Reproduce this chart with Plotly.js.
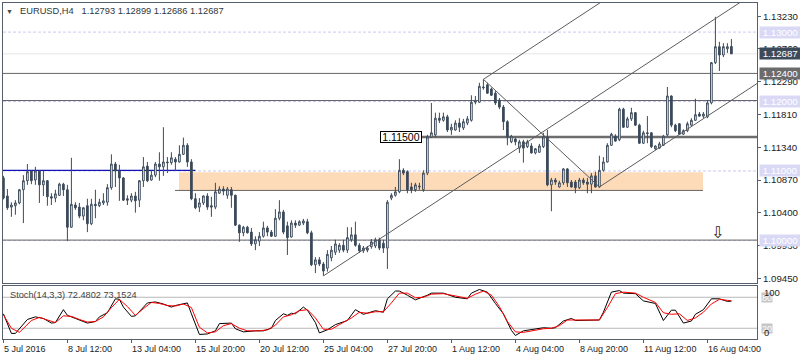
<!DOCTYPE html>
<html><head><meta charset="utf-8">
<script src="https://cdn.plot.ly/plotly-3.0.1.min.js"></script>
<style>html,body{margin:0;padding:0;background:#fff}#chart{width:800px;height:360px}</style>
</head><body><div id="chart"></div>
<script>
// ---------- DATA ----------
const open = [
1.1090,1.1064,1.1048,1.1050,1.1054,1.1073,1.1086,1.1100,1.1087,1.1100,
1.1080,1.1086,1.1063,1.1061,1.1065,1.1081,1.1073,1.1019,1.1051,1.1048,
1.1035,1.1050,1.1024,1.1052,1.1050,1.1054,1.1055,1.1076,1.1110,1.1100,
1.1090,1.1060,1.1058,1.1064,1.1058,1.1086,1.1107,1.1087,1.1094,1.1110,
1.1106,1.1113,1.1112,1.1117,1.1113,1.1124,1.1137,1.1113,1.1060,1.1048,
1.1054,1.1064,1.1050,1.1048,1.1068,1.1074,1.1065,1.1073,1.1065,1.1022,
1.1011,1.1019,1.1012,1.0995,1.0999,1.1006,1.1018,1.1012,1.1006,1.1032,
1.1041,1.1021,1.1005,1.1025,1.1022,1.1025,1.1027,1.1011,1.0965,1.0972,
1.0966,1.0960,1.0975,1.0983,1.0986,1.0993,1.0986,1.1001,1.1008,1.0993,
1.0985,1.0986,1.0991,1.0992,1.1001,1.0996,1.0989,1.1061,1.1065,1.1070,
1.1101,1.1099,1.1077,1.1073,1.1077,1.1073,1.1097,1.1149,1.1152,1.1176,
1.1173,1.1178,1.1159,1.1159,1.1169,1.1162,1.1169,1.1173,1.1199,1.1199,
1.1221,1.1224,1.1218,1.1212,1.1202,1.1192,1.1171,1.1142,1.1146,1.1133,
1.1142,1.1135,1.1136,1.1126,1.1127,1.1135,1.1149,1.1080,1.1087,1.1077,
1.1083,1.1103,1.1084,1.1084,1.1076,1.1087,1.1084,1.1081,1.1093,1.1077,
1.1101,1.1113,1.1137,1.1150,1.1145,1.1189,1.1163,1.1175,1.1184,1.1166,
1.1140,1.1155,1.1155,1.1132,1.1133,1.1137,1.1152,1.1208,1.1166,1.1168,
1.1153,1.1158,1.1166,1.1173,1.1182,1.1179,1.1178,1.1198,1.1256,1.1279,
1.1267,1.1276,1.12793];
const high = [
1.1093,1.1074,1.1055,1.1058,1.1074,1.1094,1.1110,1.1101,1.1106,1.1101,
1.1100,1.1087,1.1068,1.1073,1.1083,1.1083,1.1080,1.1119,1.1055,1.1054,
1.1048,1.1060,1.1060,1.1073,1.1060,1.1068,1.1081,1.1124,1.1113,1.1109,
1.1091,1.1065,1.1068,1.1070,1.1087,1.1120,1.1113,1.1101,1.1113,1.1127,
1.1163,1.1120,1.1127,1.1120,1.1137,1.1148,1.1140,1.1117,1.1068,1.1061,
1.1065,1.1068,1.1063,1.1083,1.1078,1.1078,1.1077,1.1077,1.1066,1.1023,
1.1021,1.1021,1.1018,1.1006,1.1012,1.1027,1.1021,1.1015,1.1045,1.1058,
1.1044,1.1027,1.1029,1.1029,1.1029,1.1031,1.1031,1.1014,1.0976,1.0976,
1.0969,1.0986,1.0992,1.1001,1.0996,1.1001,1.1019,1.1019,1.1027,1.0996,
1.0992,1.0992,1.1002,1.1004,1.1004,1.1001,1.1058,1.1068,1.1077,1.1117,
1.1104,1.1101,1.1083,1.1083,1.1083,1.1101,1.1152,1.1198,1.1184,1.1184,
1.1184,1.1181,1.1168,1.1173,1.1176,1.1175,1.1179,1.1209,1.1208,1.1227,
1.1232,1.1227,1.1220,1.1215,1.1205,1.1195,1.1173,1.1152,1.1148,1.1145,
1.1145,1.1145,1.1140,1.1133,1.1139,1.1155,1.1159,1.1090,1.1090,1.1086,
1.1104,1.1104,1.1087,1.1087,1.1090,1.1090,1.1090,1.1097,1.1099,1.1122,
1.1120,1.1140,1.1155,1.1153,1.1191,1.1191,1.1178,1.1191,1.1185,1.1168,
1.1158,1.1179,1.1156,1.1137,1.1142,1.1152,1.1221,1.1209,1.1168,1.1169,
1.1160,1.1171,1.1176,1.1204,1.1185,1.1185,1.1202,1.1257,1.1322,1.1286,
1.1284,1.1284,1.12899];
const low = [
1.1059,1.1044,1.1034,1.1037,1.1052,1.1025,1.1080,1.1081,1.1080,1.1054,
1.1064,1.1050,1.1051,1.1055,1.1064,1.1064,1.0999,1.1018,1.1044,1.1032,
1.1029,1.1012,1.1022,1.1032,1.1048,1.1051,1.1050,1.1073,1.1077,1.1057,
1.1057,1.1051,1.1055,1.1040,1.1048,1.1077,1.1084,1.1086,1.1091,1.1086,
1.1093,1.1097,1.1109,1.1100,1.1112,1.1123,1.1106,1.1058,1.1045,1.1041,
1.1051,1.1044,1.1034,1.1045,1.1067,1.1065,1.1060,1.1047,1.1021,1.0998,
1.1006,1.1010,1.0992,1.0986,1.0992,1.1004,1.1006,1.1005,1.1005,1.1029,
1.1009,1.0979,1.1004,1.1018,1.1021,1.1022,1.1009,1.0963,1.0953,1.0963,
1.0949,1.0955,1.0970,1.0979,1.0982,1.0983,1.0982,1.0998,1.0991,1.0982,
1.0982,1.0983,1.0988,1.0989,1.0986,1.0982,1.0959,1.1058,1.1063,1.1068,
1.1094,1.1068,1.1068,1.1070,1.1073,1.1070,1.1094,1.1148,1.1149,1.1169,
1.1171,1.1156,1.1152,1.1158,1.1156,1.1159,1.1166,1.1171,1.1196,1.1198,
1.1217,1.1211,1.1208,1.1195,1.1189,1.1159,1.1137,1.1140,1.1137,1.1126,
1.1112,1.1133,1.1125,1.1124,1.1126,1.1133,1.1078,1.1042,1.1080,1.1076,
1.1080,1.1077,1.1076,1.1068,1.1074,1.1080,1.1068,1.1068,1.1076,1.1076,
1.1099,1.1112,1.1136,1.1142,1.1143,1.1162,1.1162,1.1172,1.1165,1.1139,
1.1139,1.1140,1.1133,1.1130,1.1132,1.1136,1.1150,1.1163,1.1156,1.1152,
1.1152,1.1156,1.1165,1.1172,1.1178,1.1176,1.1176,1.1196,1.1254,1.1244,
1.1264,1.1270,1.12686];
const close = [
1.1061,1.1047,1.1051,1.1054,1.1073,1.1086,1.1099,1.1086,1.1100,1.1080,
1.1086,1.1063,1.1061,1.1067,1.1081,1.1073,1.1019,1.1052,1.1047,1.1035,
1.1047,1.1024,1.1052,1.1050,1.1055,1.1057,1.1076,1.1110,1.1100,1.1090,
1.1058,1.1058,1.1064,1.1057,1.1086,1.1106,1.1086,1.1094,1.1110,1.1106,
1.1113,1.1112,1.1119,1.1113,1.1124,1.1137,1.1113,1.1060,1.1047,1.1054,
1.1064,1.1048,1.1048,1.1070,1.1074,1.1071,1.1074,1.1065,1.1022,1.1011,
1.1019,1.1011,1.0995,1.1001,1.1006,1.1018,1.1012,1.1006,1.1032,1.1041,
1.1012,1.1004,1.1025,1.1022,1.1027,1.1028,1.1011,1.0965,1.0972,1.0966,
1.0956,1.0980,1.0986,1.0995,1.0993,1.0986,1.1004,1.1008,1.0993,1.0985,
1.0989,1.0989,1.0998,1.1001,1.0989,1.0989,1.1055,1.1065,1.1070,1.1101,
1.1097,1.1073,1.1073,1.1080,1.1078,1.1097,1.1149,1.1155,1.1176,1.1173,
1.1178,1.1159,1.1163,1.1169,1.1163,1.1171,1.1175,1.1199,1.1201,1.1222,
1.1220,1.1212,1.1209,1.1198,1.1192,1.1171,1.1149,1.1150,1.1142,1.1142,
1.1133,1.1142,1.1126,1.1132,1.1136,1.1149,1.1080,1.1087,1.1084,1.1083,
1.1103,1.1083,1.1077,1.1076,1.1087,1.1083,1.1081,1.1093,1.1077,1.1101,
1.1113,1.1137,1.1153,1.1143,1.1189,1.1163,1.1175,1.1184,1.1166,1.1140,
1.1155,1.1154,1.1135,1.1136,1.1139,1.1150,1.1208,1.1166,1.1158,1.1153,
1.1158,1.1168,1.1173,1.1181,1.1179,1.1182,1.1198,1.1256,1.1279,1.1267,
1.1279,1.1279,1.12687];

// Stochastic(14,3,3): %K (black) and %D (red), read at bar indices
const kIdx = [0,2,3,6,8,10,12,13,15,16,18,21,23,24,26,28,29,30,32,33,36,38,40,42,43,46,47,49,51,53,54,57,58,60,63,65,67,68,70,71,72,73,75,76,78,79,81,83,86,88,90,92,93,95,96,98,99,101,103,106,107,110,113,116,117,119,121,123,125,127,128,130,133,135,137,138,140,142,143,146,149,150,152,154,155,158,160,163,165,167,168,170,172,173,175,177,179,181,182];
const kVal = [48,10,10,37,42,39,30,31,56,45,39,30,33,42,50,77,76,61,43,44,69,71,67,61,64,69,48,8,9,15,29,30,19,13,15,15,20,35,48,45,49,48,61,55,31,11,17,27,35,56,47,51,54,51,77,92,92,84,75,84,88,88,80,77,88,95,90,68,48,16,6,15,18,21,20,21,34,39,35,35,36,51,90,93,88,87,73,68,35,55,55,30,34,47,56,77,77,72,72.48];
const dIdx = [0,2,4,7,9,11,13,15,17,19,21,23,25,27,29,31,33,35,37,39,41,43,45,47,49,51,53,55,57,59,61,64,66,68,70,72,74,76,78,80,82,84,87,89,91,93,95,97,99,101,103,105,107,110,113,116,118,120,122,124,126,128,130,133,135,137,139,141,143,146,149,151,153,155,158,160,163,165,167,169,171,173,175,177,179,181,182];
const dVal = [46,20,12,35,41,36,31,44,43,37,32,33,42,60,76,62,45,58,70,68,64,63,67,60,22,11,13,25,29,20,15,15,17,26,42,46,54,56,40,18,18,27,40,51,49,52,52,69,88,88,79,80,86,87,82,78,86,92,84,62,33,13,12,16,19,20,25,36,36,35,36,60,87,90,88,80,70,50,47,48,35,40,51,67,76,74,73.15];

// x tick labels (every 16 bars)
const tickIdx = [0,16,32,48,64,80,96,112,128,144,160,176];
const tickLabels = ['5 Jul 2016','8 Jul 12:00','13 Jul 04:00','15 Jul 20:00','20 Jul 12:00','25 Jul 04:00','27 Jul 20:00','1 Aug 12:00','4 Aug 04:00','8 Aug 20:00','11 Aug 12:00','16 Aug 04:00'];
// price scale
const yTickVals = [1.1323,1.1276,1.1229,1.1181,1.1134,1.1087,1.1040,1.0993,1.0945];
const yTickText = ['1.13230','1.12760','1.12290','1.11810','1.11340','1.10870','1.10400','1.09930','1.09450'];
// marked price levels
const levelDashed = [1.1300,1.1200,1.1100,1.1000];
const levelSolid = [1.1240,1.1201,1.1000];
const bidPrice = 1.12687;
const levelLabels = [1.1300,1.12687,1.1240,1.1200,1.1100,1.1000];
const levelLabelText = ['1.13000','1.12687','1.12400','1.12000','1.11000','1.10000'];
const keyLevel = 1.1149, keyLevelText = '1.11500';
const zoneTop = 1.1098, zoneBottom = 1.1072;
const blueLevel = 1.1101;
// channel anchors [barIndex, price]
const chanLow = [80, 1.0949], chanHigh = [120, 1.1232], chanLow2 = [149, 1.1077];
const chanSlope = 0.000378; // price per bar
const arrowPos = [178.6, 1.1011];
const titleText = 'EURUSD,H4\u00a0\u00a0 1.12793 1.12899 1.12686 1.12687';
const stochText = 'Stoch(14,3,3) 72.4802 73.1524';

// ---------- CHART ----------
const bars = open.map((_, i) => i);
const XR = [-0.1, 188.4];
const FONT = 'Liberation Sans, Arial, sans-serif';
const CANDLE = '#3c4a5a';
const FRAME = '#55606c';
const pxY = p => (339 - p) / 336;
const pxX = p => (p - 3) / 754;

const chanEnd = XR[1];
const traces = [
  {type:'candlestick', x:bars, open, high, low, close, xaxis:'x', yaxis:'y',
   increasing:{line:{color:CANDLE,width:1}, fillcolor:'#ffffff'},
   decreasing:{line:{color:CANDLE,width:1}, fillcolor:CANDLE},
   whiskerwidth:0, hoverinfo:'skip', showlegend:false},
  {type:'scatter', mode:'lines', x:[chanLow[0], chanEnd], y:[chanLow[1], chanLow[1] + chanSlope*(chanEnd-chanLow[0])],
   line:{color:'#5c5c5c', width:1}, xaxis:'x', yaxis:'y', hoverinfo:'skip', showlegend:false},
  {type:'scatter', mode:'lines', x:[chanHigh[0], chanEnd], y:[chanHigh[1], chanHigh[1] + chanSlope*(chanEnd-chanHigh[0])],
   line:{color:'#5c5c5c', width:1}, xaxis:'x', yaxis:'y', hoverinfo:'skip', showlegend:false},
  {type:'scatter', mode:'lines', x:[chanLow2[0], chanEnd], y:[chanLow2[1], chanLow2[1] + chanSlope*(chanEnd-chanLow2[0])],
   line:{color:'#5c5c5c', width:1}, xaxis:'x', yaxis:'y', hoverinfo:'skip', showlegend:false},
  {type:'scatter', mode:'lines', x:[chanHigh[0], chanLow2[0]], y:[chanHigh[1], chanLow2[1]],
   line:{color:'#5c5c5c', width:1}, xaxis:'x', yaxis:'y', hoverinfo:'skip', showlegend:false},
  {type:'scatter', mode:'lines', x:kIdx, y:kVal, line:{color:'#000000', width:1},
   xaxis:'x2', yaxis:'y2', hoverinfo:'skip', showlegend:false},
  {type:'scatter', mode:'lines', x:dIdx, y:dVal, line:{color:'#ff0000', width:1},
   xaxis:'x2', yaxis:'y2', hoverinfo:'skip', showlegend:false}
];

const shapes = [];
shapes.push({type:'rect', xref:'x', yref:'y', x0:43.9, x1:174.9, y0:zoneBottom, y1:zoneTop,
  fillcolor:'#fddbb9', line:{width:0}, layer:'below'});
levelDashed.forEach(v => shapes.push({type:'line', xref:'x', yref:'y', x0:XR[0], x1:XR[1], y0:v, y1:v,
  line:{color:'#c9c9f2', width:1, dash:'3px,2px'}, layer:'below'}));
shapes.push({type:'line', xref:'x', yref:'y', x0:XR[0], x1:XR[1], y0:bidPrice, y1:bidPrice,
  line:{color:'#e6e6e6', width:1}, layer:'below'});
levelSolid.forEach(v => shapes.push({type:'line', xref:'x', yref:'y', x0:XR[0], x1:XR[1], y0:v+0.00005, y1:v+0.00005,
  line:{color:'#666666', width:1}, layer:'below'}));
shapes.push({type:'line', xref:'x', yref:'y', x0:42.9, x1:174.9, y0:zoneBottom, y1:zoneBottom,
  line:{color:'#666666', width:1}, layer:'below'});
shapes.push({type:'line', xref:'x', yref:'y', x0:XR[0], x1:48, y0:blueLevel, y1:blueLevel,
  line:{color:'#1414b4', width:1.3}, layer:'below'});
shapes.push({type:'line', xref:'x', yref:'y', x0:104.6, x1:XR[1], y0:keyLevel, y1:keyLevel,
  line:{color:'#6d6d6d', width:2.5}, layer:'below'});
[80, 20].forEach(v => shapes.push({type:'line', xref:'x2', yref:'y2', x0:XR[0], x1:XR[1], y0:v, y1:v,
  line:{color:'#b8b8b8', width:1}, layer:'below'}));

const annotations = [];
annotations.push({xref:'paper', yref:'paper', x:pxX(9.5), y:pxY(11), xanchor:'center', yanchor:'middle',
  text:'▼', showarrow:false, font:{family:FONT, size:7, color:'#4a4a4a'}});
annotations.push({xref:'paper', yref:'paper', x:pxX(18), y:pxY(11), xanchor:'left', yanchor:'middle',
  text:titleText, showarrow:false, font:{family:FONT, size:9.3, color:'#2e3640'}});
annotations.push({xref:'paper', yref:'paper', x:pxX(7.5), y:pxY(295), xanchor:'left', yanchor:'middle',
  text:stochText, showarrow:false, font:{family:FONT, size:9.2, color:'#444'}});
tickIdx.forEach((ix, k) => annotations.push({xref:'x2', yref:'paper', x:ix, y:pxY(349), xanchor:'left', yanchor:'middle',
  xshift:-1.5, text:tickLabels[k], showarrow:false, font:{family:FONT, size:9, color:'#222'}}));
const labelBg = ['#d9d9f6', '#3c4a5a', '#6b6b6b', '#d9d9f6', '#d9d9f6', '#d9d9f6'];
levelLabels.forEach((v, k) => annotations.push({xref:'paper', yref:'y', x:pxX(759), y:v, xanchor:'left', yanchor:'middle',
  text:'\u00a0' + levelLabelText[k], showarrow:false, bgcolor:labelBg[k], borderpad:0, width:41, height:11, align:'left',
  font:{family:FONT, size:9.7, color:'#ffffff'}}));
annotations.push({xref:'x', yref:'y', x:104.6, y:keyLevel, xanchor:'right', yanchor:'middle', text:keyLevelText,
  showarrow:false, bgcolor:'#ffffff', bordercolor:'#000000', borderwidth:1, borderpad:0, width:40, height:10,
  font:{family:FONT, size:10.5, color:'#000'}});
annotations.push({xref:'x', yref:'y', x:arrowPos[0], y:arrowPos[1], xanchor:'center', yanchor:'middle', text:'⇩',
  showarrow:false, font:{family:'DejaVu Sans', size:16, color:'#2a2418'}});
[[80, 297.3], [20, 328.3]].forEach(([t, py]) => annotations.push({xref:'paper', yref:'paper', x:pxX(761), y:pxY(py),
  xanchor:'left', yanchor:'middle', text:String(t), showarrow:false, bgcolor:'#c6c6c6', borderpad:0, height:9,
  font:{family:FONT, size:9, color:'#ffffff'}}));
[[100, 292.3], [0, 332.3]].forEach(([t, py]) => annotations.push({xref:'paper', yref:'paper', x:pxX(761.5), y:pxY(py),
  xanchor:'left', yanchor:'middle', text:String(t), showarrow:false, font:{family:FONT, size:9.5, color:'#222'}}));

const layout = {
  width:800, height:360, margin:{l:3, r:43, t:3, b:21},
  paper_bgcolor:'#ffffff', plot_bgcolor:'#ffffff', showlegend:false, hovermode:false,
  boxgap:0.4,
  xaxis:{domain:[0,1], anchor:'y', range:XR, showticklabels:false, ticks:'', showgrid:false, zeroline:false,
    showline:true, mirror:true, linecolor:FRAME, linewidth:1, rangeslider:{visible:false}, fixedrange:true},
  yaxis:{domain:[0.16667,1], anchor:'x', range:[1.09387,1.13419], side:'right', tickvals:yTickVals, ticktext:yTickText,
    ticks:'outside', ticklen:3, tickcolor:FRAME, tickfont:{family:FONT, size:9.7, color:'#222'},
    showgrid:false, zeroline:false, showline:true, mirror:true, linecolor:FRAME, linewidth:1, fixedrange:true},
  xaxis2:{domain:[0,1], anchor:'y2', range:XR, tickvals:tickIdx, ticks:'outside', ticklen:3, tickcolor:FRAME,
    showticklabels:false, showgrid:false, zeroline:false, showline:true, mirror:true, linecolor:FRAME, linewidth:1,
    rangeslider:{visible:false}, fixedrange:true},
  yaxis2:{domain:[0,0.15774], anchor:'x2', range:[-0.8,101.8], showticklabels:false, ticks:'', showgrid:false,
    zeroline:false, showline:true, mirror:true, linecolor:FRAME, linewidth:1, fixedrange:true},
  shapes, annotations
};
Plotly.newPlot('chart', traces, layout, {staticPlot:true, displayModeBar:false});
</script></body></html>
